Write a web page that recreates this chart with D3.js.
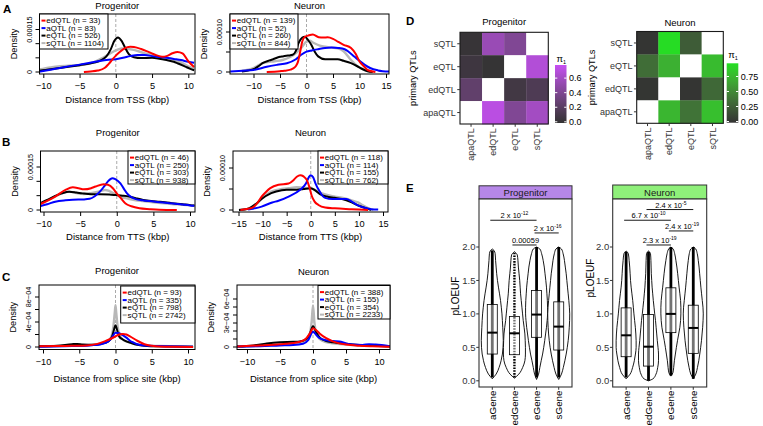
<!DOCTYPE html>
<html><head><meta charset="utf-8">
<script src="https://cdn.jsdelivr.net/npm/d3@7"></script>
<style>body{margin:0;background:#fff}svg{display:block;font-family:"Liberation Sans",Arial,sans-serif}</style>
</head><body><svg id="c" width="763" height="426"></svg>
<script>
// ================= DATA =================
const qtlNames = ["edQTL", "aQTL", "eQTL", "sQTL"];
const qtlColors = ["#ff0000", "#0000ff", "#000000", "#b8b8b8"];

// n per QTL type (order: edQTL, aQTL, eQTL, sQTL)
const tssProgCounts = [33, 83, 526, 1104];
const tssNeuCounts = [139, 52, 260, 844];
const ttsProgCounts = [46, 250, 303, 938];
const ttsNeuCounts = [118, 114, 155, 762];
const ssProgCounts = [93, 335, 798, 2742];
const ssNeuCounts = [388, 155, 354, 2233];

// density curves: [distance kbp, density x1e-5] (TSS / TTS)
const tssProgEd = [[-4.4,0],[-3.5,0.2],[-2.5,0.5],[-1.5,1.5],[-1,2.8],[-0.5,4.3],[0,5.8],[0.5,7],[1,8],[1.5,8.7],[2,8.9],[2.5,8.8],[3.5,8.1],[4.5,7.1],[5.5,6],[6.4,5.4],[7,5.6],[7.8,6.6],[8.5,7.1],[9.2,6.6],[10,3.8],[10.8,1.8]];
const tssProgA = [[-10.7,0],[-9,0.8],[-7,1.8],[-5,2.6],[-3,3.5],[-2,4],[-1,4.3],[0,4.5],[1,5],[2,5.6],[3,6],[4,6],[5,5.6],[6,5.3],[7,5],[8,4.6],[9,4.2],[10,3.6],[10.8,3.3]];
const tssProgE = [[-10.7,0.4],[-9,1],[-8,1.3],[-6,2],[-5,2.4],[-3,3.3],[-2,4.2],[-1.3,5.5],[-0.7,8],[-0.2,11],[0.3,12.2],[0.8,11],[1.3,8.5],[1.8,6.3],[2.5,5.2],[3.5,4.9],[5,5],[6,4.7],[7,4.2],[8,3.6],[8.5,3.1],[9.5,2],[10.2,1.2],[10.8,0.6]];
const tssProgS = [[-10.7,0.8],[-9,1.6],[-8,2],[-6,2.3],[-5,2.4],[-3,3.5],[-2,4.7],[-1,6.2],[0,7.6],[0.8,8.3],[1.5,8.2],[2.5,7.8],[4,6.6],[5,6],[6,5.4],[7,4.9],[8,4.4],[9,3.4],[10,2],[10.8,1.2]];

const tssNeuEd = [[-7.5,0],[-5,0.2],[-4.2,0.3],[-3,0.6],[-2.5,0.9],[-2,1.5],[-1.6,2.6],[-1.2,5],[-0.8,7.6],[-0.3,8.8],[0.3,9.1],[1.2,9.4],[2.3,8.7],[3.2,8.6],[4,8.7],[5,8.3],[5.9,7.6],[7,6.8],[8.4,6],[9.3,4.5],[10,2.6],[11,1.2],[11.5,0.5],[13,0]];
const tssNeuA = [[-14.4,0.1],[-12,0.3],[-10,0.5],[-7.5,1.3],[-5.5,1.8],[-3.7,2.2],[-2,3.2],[-1,4.3],[0,5.1],[1,5.4],[2.2,5.7],[3.5,6],[4.7,6.1],[6,6],[7.2,5.7],[8,5],[9,3.9],[10,2.8],[11,1.8],[12,1],[13.5,0.4],[15.6,0.1]];
const tssNeuE = [[-12.2,0.1],[-11,0.4],[-10,0.7],[-9,1.5],[-8.3,2.2],[-7,2.9],[-6.3,3.2],[-5,3.8],[-4.5,3.9],[-3.5,4.1],[-2.6,4.3],[-2,5.3],[-1.5,7.2],[-0.8,8.6],[-0.3,8.8],[0.3,8],[0.9,6.8],[1.5,5.2],[2.2,3.9],[3.5,3.2],[5,3.2],[5.9,3.2],[7,2.8],[8.4,2.2],[9.5,1.5],[10.3,0.9],[11.5,0.2],[12.5,0]];
const tssNeuS = [[-12.2,0.3],[-10,1],[-8.3,2.2],[-6,2.7],[-4.5,3],[-3,3.8],[-2,4.7],[-1,6],[0,7.6],[0.6,7.8],[1.3,7.3],[2.5,6.6],[3.5,6.3],[4.7,6.1],[5.9,5.9],[7,5.2],[8.4,3],[9.5,1.6],[10.3,0.9],[11.2,0.4],[12.2,0.1]];

const ttsProgEd = [[-10.5,2],[-9.5,3.2],[-8.4,4.7],[-7,7],[-6,7.9],[-5.2,7.6],[-4.5,7.2],[-3.5,7.6],[-2.9,8.2],[-1.8,9],[-1.2,8.8],[-0.5,7.5],[0,5.8],[0.6,4],[1.2,2.3],[2,1.3],[3.1,0.6],[4.5,0.3],[5.8,0.1],[8.2,0]];
const ttsProgA = [[-10.5,1.3],[-9.5,2],[-8.4,2.9],[-7,3.4],[-6,3.6],[-4.5,3.7],[-3.7,3.9],[-3,4.8],[-2.3,6.4],[-1.7,8.3],[-1.2,10],[-0.6,11.1],[-0.2,10.8],[0.5,9.3],[1,7.3],[1.4,5.8],[2,4.5],[2.6,3.8],[3.5,3.4],[4.4,3.1],[5.5,2.8],[6.7,2.5],[8,2.2],[9,1.9],[10,1.6],[10.6,1.5]];
const ttsProgE = [[-10.5,2.3],[-9.5,3.5],[-8.4,4.9],[-7.5,5.8],[-6.5,6.4],[-5.5,6.1],[-4.7,5.8],[-3.5,5.5],[-2.3,5.5],[-1,5.4],[-0.1,5.2],[0.8,5],[1.7,4.7],[2.6,4.1],[3.6,3.5],[4.7,3.1],[5.9,2.9],[7.5,2.4],[9,2],[10,1.7],[10.6,1.6]];
const ttsProgS = [[-10.5,2],[-9.5,3.3],[-8.4,4.7],[-7.5,5.8],[-6.5,6.4],[-5.5,5.9],[-4.5,5.6],[-3.5,5.9],[-2.5,6.4],[-1.6,7],[-1,6.6],[-0.2,5.5],[0.5,4.6],[1.5,4],[2.6,3.4],[3.6,3.1],[5,2.7],[6.5,2.3],[8,2],[9.5,1.7],[10.6,1.5]];

const ttsNeuEd = [[-14.6,0],[-13,0.3],[-12.2,0.5],[-11,1.8],[-10.2,3.2],[-9.3,4.3],[-8.4,5.2],[-6.7,6],[-4.6,6.3],[-3.5,7.2],[-2.9,7.9],[-2.2,8.3],[-1.5,8],[-0.8,7.1],[-0.3,5.5],[0.2,3.4],[0.8,2],[1.6,1.2],[3,0.6],[5,0.4],[8.5,0.2],[11.9,0]];
const ttsNeuA = [[-13,0.1],[-12,0.3],[-10.2,0.8],[-8,1.8],[-6.7,2.2],[-4.6,3.2],[-2.2,4.8],[-1,6.3],[-0.4,7.8],[0,8.3],[0.5,7.8],[1,6.3],[1.8,4.5],[2.5,3.3],[3,2.9],[4.5,2.6],[6,2.6],[7.4,2.6],[8.5,2],[9.8,1.1],[11,0.6],[12.5,0.2],[14,0.1]];
const ttsNeuE = [[-14.9,0],[-13,0.3],[-12.2,0.8],[-11,1.8],[-10.2,2.6],[-8.2,4],[-6,4.7],[-5,4.8],[-2.9,4.8],[-1.5,5],[0,5.2],[1,4.6],[2,3.7],[3.3,3.2],[5,2.9],[6.5,2.6],[8.5,1.8],[10,1],[11.5,0.4],[12.5,0]];
const ttsNeuS = [[-14.9,0],[-12.2,0.5],[-10.2,2.8],[-8.2,4.4],[-6,5],[-4.6,5.2],[-2.9,5.4],[-1.5,5.3],[0,5.2],[1.6,4.3],[3,3.7],[5,3.2],[6.9,2.8],[8.5,2.3],[9.8,1.8],[11,1],[12,0.4],[13,0]];

// splice site: [distance kbp, density x1e-4]
const ssProgEd = [[-10.7,0.1],[-8,0.15],[-6,0.2],[-4,0.25],[-2.5,0.5],[-1.5,0.9],[-0.5,1.4],[0,1.7],[0.5,2.0],[1,2.1],[1.5,2.0],[2,1.7],[3,1.0],[4,0.45],[5,0.2],[6,0.08],[8,0.03],[10.7,0.02]];
const ssProgA = [[-10.7,0.05],[-6,0.15],[-4,0.2],[-3,0.3],[-2,0.45],[-1,0.9],[-0.5,1.5],[0,2.3],[0.5,2.2],[1,1.9],[1.5,1.5],[2,1.0],[2.5,0.7],[3,0.45],[4,0.25],[6,0.15],[10.7,0.05]];
const ssProgE = [[-10.7,0.1],[-8,0.2],[-6,0.45],[-5.3,0.5],[-4.5,0.4],[-3,0.35],[-2,0.5],[-1,0.9],[-0.5,1.6],[-0.2,2.8],[0,3.5],[0.2,2.8],[0.5,1.7],[1,1.2],[1.5,0.9],[2,0.7],[3,0.35],[4,0.2],[6,0.1],[10.7,0.05]];
const ssProgS = [[-10.7,0.1],[-8,0.15],[-6,0.25],[-5,0.3],[-4,0.3],[-3,0.35],[-2,0.5],[-1.2,0.8],[-0.6,1.6],[-0.3,3.2],[-0.1,5.5],[0,6.7],[0.1,5.5],[0.3,3.2],[0.6,1.8],[1,1.2],[1.5,0.9],[2,0.7],[3,0.4],[4,0.25],[6,0.15],[8,0.1],[10.7,0.05]];

const ssNeuEd = [[-11.5,0.05],[-8,0.2],[-5,0.35],[-3,0.5],[-2,0.65],[-1,1.1],[-0.4,1.8],[0,2.35],[0.5,2.1],[1,1.7],[2,1.1],[3,0.7],[4,0.45],[5,0.3],[7,0.15],[9,0.08],[11.7,0.03]];
const ssNeuA = [[-11.5,0.05],[-8,0.1],[-5,0.2],[-3,0.25],[-1.5,0.4],[-0.7,0.9],[0,1.9],[0.5,1.5],[1,1.1],[2,0.85],[3,0.75],[4,0.7],[5,0.45],[6,0.3],[7.5,0.25],[8.5,0.35],[9.5,0.3],[11.7,0.1]];
const ssNeuE = [[-11.5,0.05],[-9,0.2],[-7,0.45],[-5,0.6],[-3,0.65],[-2,0.7],[-1,1.0],[-0.5,1.6],[0,2.6],[0.5,1.8],[1,1.2],[2,0.75],[3,0.6],[5,0.4],[7,0.25],[9,0.15],[11.7,0.05]];
const ssNeuS = [[-11.5,0.05],[-8,0.15],[-6,0.3],[-4,0.35],[-2,0.5],[-1,0.9],[-0.5,1.6],[-0.2,3.2],[0,5.2],[0.2,3.2],[0.5,1.7],[1,1.0],[2,0.6],[3,0.45],[5,0.3],[7,0.2],[9,0.2],[11.7,0.05]];

// tick values / labels
const xTicks10 = [-10, -5, 0, 5, 10];
const xTicks15 = [-10, -5, 0, 5, 10, 15];
const xTicksPM15 = [-15, -10, -5, 0, 5, 10, 15];
const yTicksE5 = [0, 5, 10, 15];
const yLabProg = [[0, "0"], [15, "0.00015"]];
const yLabNeu = [[0, "0"], [10, "0.00010"]];
const yTicksSsProg = [0, 2, 4, 6, 8];
const yLabSsProg = [[0, "0"], [4, "4e\u221204"], [8, "8e\u221204"]];
const yTicksSsNeu = [0, 1, 2, 3, 4, 5, 6];
const yLabSsNeu = [[0, "0"], [3, "3e\u221204"], [6, "6e\u221204"]];

// Panel D: pi1 sharing
const heatRows = ["sQTL", "eQTL", "edQTL", "apaQTL"];
const heatCols = ["apaQTL", "edQTL", "eQTL", "sQTL"];
const pi1Progenitor = [[0.02, 0.55, 0.42, null], [0.06, 0.01, null, 0.68], [0.25, null, 0.08, 0.15], [null, 0.72, 0.42, 0.60]];
const pi1Neuron = [[0.01, 0.95, 0.25, null], [0.35, 0.72, null, 0.78], [0.02, null, 0.01, 0.32], [null, 0.75, 0.38, 0.80]];
const pi1ProgTicks = [0, 0.2, 0.4, 0.6];
const pi1ProgTickLabels = ["0.0", "0.2", "0.4", "0.6"];
const pi1NeuTicks = [0, 0.25, 0.5, 0.75];
const pi1NeuTickLabels = ["0.00", "0.25", "0.50", "0.75"];

// Panel E: pLOEUF
const genes = ["aGene", "edGene", "eGene", "sGene"];
const ploeufTicks = [0, 0.5, 1, 1.5, 2];
const ploeufTickLabels = ["0.0", "0.5", "1.0", "1.5", "2.0"];
// [min, q1, median, q3, max]
const progBoxStats = [[0.05, 0.40, 0.72, 1.14, 1.95], [0.05, 0.39, 0.71, 0.96, 1.93], [0.05, 0.65, 0.99, 1.35, 2.0], [0.05, 0.46, 0.81, 1.18, 2.0]];
const neuBoxStats = [[0.05, 0.36, 0.68, 1.09, 1.93], [0.0, 0.22, 0.51, 0.99, 1.93], [0.08, 0.72, 1.0, 1.39, 2.0], [0.03, 0.41, 0.79, 1.13, 2.0]];
// violin profiles [pLOEUF, relative density width]
const progViolinA = [[0.03,0],[0.1,0.35],[0.2,0.62],[0.3,0.8],[0.4,0.92],[0.5,0.98],[0.6,1.0],[0.7,0.98],[0.8,0.95],[0.9,0.92],[1.0,0.88],[1.1,0.82],[1.2,0.75],[1.3,0.66],[1.4,0.56],[1.5,0.47],[1.6,0.4],[1.7,0.35],[1.8,0.3],[1.9,0.26],[1.95,0.15],[1.97,0]];
const progViolinEd = [[0.04,0],[0.1,0.4],[0.2,0.75],[0.3,0.95],[0.4,1.0],[0.5,1.0],[0.6,0.98],[0.7,0.95],[0.8,0.88],[0.9,0.8],[1.0,0.74],[1.1,0.68],[1.2,0.62],[1.3,0.56],[1.4,0.52],[1.5,0.48],[1.6,0.42],[1.7,0.36],[1.8,0.32],[1.88,0.26],[1.93,0]];
const progViolinE = [[0.02,0],[0.1,0.18],[0.2,0.3],[0.3,0.42],[0.4,0.55],[0.5,0.65],[0.6,0.74],[0.7,0.82],[0.8,0.9],[0.9,0.96],[1.0,1.0],[1.1,1.0],[1.2,0.98],[1.3,0.94],[1.4,0.9],[1.5,0.84],[1.6,0.77],[1.7,0.7],[1.8,0.6],[1.9,0.46],[1.97,0.3],[2.0,0]];
const progViolinS = [[0.02,0],[0.1,0.25],[0.2,0.42],[0.3,0.56],[0.4,0.68],[0.5,0.78],[0.6,0.86],[0.7,0.92],[0.8,0.96],[0.9,0.99],[1.0,1.0],[1.1,0.97],[1.2,0.92],[1.3,0.86],[1.4,0.8],[1.5,0.74],[1.6,0.68],[1.7,0.6],[1.8,0.52],[1.9,0.4],[1.97,0.25],[2.0,0]];
const neuViolinA = [[0.03,0],[0.1,0.4],[0.2,0.65],[0.3,0.82],[0.4,0.93],[0.5,1.0],[0.6,1.0],[0.7,0.97],[0.8,0.92],[0.9,0.85],[1.0,0.78],[1.1,0.72],[1.2,0.66],[1.3,0.58],[1.4,0.5],[1.5,0.44],[1.6,0.4],[1.7,0.36],[1.8,0.3],[1.9,0.22],[1.94,0]];
const neuViolinEd = [[0.0,0],[0.03,0.45],[0.1,0.75],[0.2,0.92],[0.3,1.0],[0.4,1.0],[0.5,0.95],[0.6,0.88],[0.7,0.82],[0.8,0.76],[0.9,0.7],[1.0,0.62],[1.1,0.55],[1.2,0.48],[1.3,0.42],[1.4,0.36],[1.5,0.32],[1.6,0.28],[1.7,0.26],[1.8,0.24],[1.9,0.2],[1.94,0]];
const neuViolinE = [[0.07,0],[0.12,0.2],[0.2,0.28],[0.3,0.35],[0.4,0.45],[0.5,0.55],[0.6,0.66],[0.7,0.78],[0.8,0.9],[0.9,0.97],[1.0,1.0],[1.1,1.0],[1.2,0.97],[1.3,0.9],[1.4,0.82],[1.5,0.75],[1.6,0.68],[1.7,0.6],[1.8,0.5],[1.9,0.38],[1.97,0.22],[2.0,0]];
const neuViolinS = [[0.03,0],[0.1,0.25],[0.2,0.42],[0.3,0.55],[0.4,0.65],[0.5,0.74],[0.6,0.82],[0.7,0.88],[0.8,0.94],[0.9,0.98],[1.0,1.0],[1.1,0.97],[1.2,0.9],[1.3,0.83],[1.4,0.76],[1.5,0.7],[1.6,0.64],[1.7,0.58],[1.8,0.5],[1.9,0.4],[1.97,0.25],[2.0,0]];
// significance brackets: [from, to, bar level, mantissa, exponent]
const progSig = [["aGene", "eGene", 2.40, "2 x 10", "-12"], ["eGene", "sGene", 2.21, "2 x 10", "-16"], ["edGene", "eGene", 2.03, "0.00059", ""]];
const neuSig = [["edGene", "sGene", 2.56, "2.4 x 10", "-5"], ["aGene", "eGene", 2.40, "6.7 x 10", "-10"], ["eGene", "sGene", 2.24, "2.4 x 10", "-19"], ["edGene", "eGene", 2.03, "2.3 x 10", "-19"]];

// ================= DRAWING =================
const svg = d3.select("#c");
svg.append("rect").attr("width", 763).attr("height", 426).attr("fill", "#fff");
const FS = 9.5;

function txt(g, x, y, s, o = {}) {
  const t = g.append("text").attr("x", x).attr("y", y).text(s)
    .attr("font-size", o.size || FS).attr("fill", o.fill || "#000")
    .attr("text-anchor", o.anchor || "middle");
  if (o.bold) t.attr("font-weight", "bold");
  if (o.rot) t.attr("transform", `rotate(${o.rot},${x},${y})`);
  if (o.dy) t.attr("dy", o.dy);
  return t;
}

// panel letters
[["A", 3, 13], ["B", 2, 145.5], ["C", 2, 281], ["D", 406, 24.5], ["E", 406, 191.5]].forEach(([l, x, y]) =>
  txt(svg, x, y, l, { bold: true, size: 11.5, anchor: "start" }));

const densityPanels = [
  { id: "a1", title: "Progenitor", titleY: 9, box: [39.5, 14, 195, 74], xRef: [-10, 43.3, 10, 188.3], yRef: [0, 72, 15, 29.5],
    xTicks: xTicks10, yTicks: yTicksE5, yLabels: yLabProg, xTitle: "Distance from TSS (kbp)", xTitleY: 103,
    legend: [39.5, 14, 68.5, 35], counts: tssProgCounts, series: [tssProgEd, tssProgA, tssProgE, tssProgS] },
  { id: "a2", title: "Neuron", titleY: 9, box: [230, 14, 389, 74], xRef: [-10, 253.5, 10, 359.5], yRef: [0, 72, 10, 32],
    xTicks: xTicks15, yTicks: yTicksE5, yLabels: yLabNeu, xTitle: "Distance from TSS (kbp)", xTitleY: 103,
    legend: [230, 14, 68, 35], counts: tssNeuCounts, series: [tssNeuEd, tssNeuA, tssNeuE, tssNeuS] },
  { id: "b1", title: "Progenitor", titleY: 136, box: [40.5, 151, 195, 212], xRef: [-10, 43.5, 10, 190], yRef: [0, 210, 15, 167],
    xTicks: xTicks10, yTicks: yTicksE5, yLabels: yLabProg, xTitle: "Distance from TTS (kbp)", xTitleY: 240,
    legend: [128, 151, 67, 33], counts: ttsProgCounts, series: [ttsProgEd, ttsProgA, ttsProgE, ttsProgS] },
  { id: "b2", title: "Neuron", titleY: 136, box: [233, 151, 388, 212], xRef: [-15, 238.5, 15, 383], yRef: [0, 210, 10, 168],
    xTicks: xTicksPM15, yTicks: yTicksE5, yLabels: yLabNeu, xTitle: "Distance from TTS (kbp)", xTitleY: 240,
    legend: [318, 151, 70, 33], counts: ttsNeuCounts, series: [ttsNeuEd, ttsNeuA, ttsNeuE, ttsNeuS] },
  { id: "c1", title: "Progenitor", titleY: 274, box: [39, 285, 195, 349.5], xRef: [-10, 43, 10, 188], yRef: [0, 347, 8, 297],
    xTicks: xTicks10, yTicks: yTicksSsProg, yLabels: yLabSsProg, xTitle: "Distance from splice site (kbp)", xTitleY: 382,
    legend: [120.7, 286, 74.3, 37], counts: ssProgCounts, series: [ssProgEd, ssProgA, ssProgE, ssProgS] },
  { id: "c2", title: "Neuron", titleY: 275, box: [237, 285, 390, 349.5], xRef: [-10, 247, 10, 379], yRef: [0, 347, 6, 299],
    xTicks: xTicks10, yTicks: yTicksSsNeu, yLabels: yLabSsNeu, xTitle: "Distance from splice site (kbp)", xTitleY: 382,
    legend: [318, 285.5, 72, 33.5], counts: ssNeuCounts, series: [ssNeuEd, ssNeuA, ssNeuE, ssNeuS] }
];

densityPanels.forEach(cfg => {
  const g = svg.append("g");
  const [bx0, by0, bx1, by1] = cfg.box;
  const x = d3.scaleLinear().domain([cfg.xRef[0], cfg.xRef[2]]).range([cfg.xRef[1], cfg.xRef[3]]);
  const y = d3.scaleLinear().domain([cfg.yRef[0], cfg.yRef[2]]).range([cfg.yRef[1], cfg.yRef[3]]);
  const clip = "clip-" + cfg.id;
  g.append("clipPath").attr("id", clip).append("rect")
    .attr("x", bx0).attr("y", by0).attr("width", bx1 - bx0).attr("height", by1 - by0);
  const inner = g.append("g").attr("clip-path", `url(#${clip})`);
  inner.append("line").attr("x1", x(0)).attr("x2", x(0)).attr("y1", by0).attr("y2", by1)
    .attr("stroke", "#aaa").attr("stroke-width", 1).attr("stroke-dasharray", "3,2");
  const line = d3.line().x(d => x(d[0])).y(d => y(d[1])).curve(d3.curveMonotoneX);
  [3, 2, 1, 0].forEach(i => {
    inner.append("path").attr("d", line(cfg.series[i])).attr("fill", "none")
      .attr("stroke", qtlColors[i]).attr("stroke-width", i === 3 ? 2.4 : 2).attr("stroke-linejoin", "round");
  });
  g.append("rect").attr("x", bx0).attr("y", by0).attr("width", bx1 - bx0).attr("height", by1 - by0)
    .attr("fill", "none").attr("stroke", "#000").attr("stroke-width", 1);
  // x axis
  const ax = d3.axisBottom(x).tickValues(cfg.xTicks).tickSize(4).tickPadding(4.5)
    .tickFormat(d => d < 0 ? "\u2212" + Math.abs(d) : String(d));
  const axg = g.append("g").attr("transform", `translate(0,${by1})`).call(ax);
  axg.select(".domain").remove();
  axg.attr("font-size", 9.2).attr("font-family", null);
  // y axis ticks
  cfg.yTicks.forEach(v => {
    const yy = y(v);
    if (yy < by0 - 0.5 || yy > by1) return;
    g.append("line").attr("x1", bx0 - 4).attr("x2", bx0).attr("y1", yy).attr("y2", yy).attr("stroke", "#000");
  });
  cfg.yLabels.forEach(([v, s]) => txt(g, bx0 - 10.5, y(v), s, { rot: -90, dy: "0.35em", size: 7.3 }));
  txt(g, bx0 - 26, (by0 + by1) / 2, "Density", { rot: -90, dy: "0.35em", size: 9.2 });
  txt(g, (bx0 + bx1) / 2, cfg.titleY, cfg.title);
  txt(g, (bx0 + bx1) / 2, cfg.xTitleY, cfg.xTitle);
  // legend
  const [lx, ly, lw, lh] = cfg.legend;
  g.append("rect").attr("x", lx).attr("y", ly).attr("width", lw).attr("height", lh)
    .attr("fill", "#fff").attr("stroke", "#000").attr("stroke-width", 1);
  const rowH = 7.5;
  qtlNames.forEach((q, i) => {
    const ry = ly + 6.6 + rowH * i;
    g.append("line").attr("x1", lx + 2).attr("x2", lx + 6).attr("y1", ry).attr("y2", ry)
      .attr("stroke", qtlColors[i]).attr("stroke-width", 2);
    txt(g, lx + 6.8, ry, `${q} (n = ${cfg.counts[i]})`, { anchor: "start", size: 8, dy: "0.35em" });
  });
});

// ---------- Panel D heatmaps ----------
const heatPanels = [
  { id: "hp", title: "Progenitor", titleY: 24.5, box: [460, 32.3, 548.3, 124], values: pi1Progenitor, max: 0.78,
    colors: ["#333333", "#c64ff2"], ytitleX: 413, bar: [555, 65, 566.5, 123], piY: 62, ticks: pi1ProgTicks, tickLabels: pi1ProgTickLabels },
  { id: "hn", title: "Neuron", titleY: 26, box: [636.7, 31.5, 723.3, 123.3], values: pi1Neuron, max: 0.97,
    colors: ["#333333", "#22e022"], ytitleX: 591.7, bar: [726.7, 63.3, 738.3, 122.7], piY: 58, ticks: pi1NeuTicks, tickLabels: pi1NeuTickLabels }
];
heatPanels.forEach(cfg => {
  const g = svg.append("g");
  const [x0, y0, x1, y1] = cfg.box;
  const x = d3.scaleBand().domain(heatCols).range([x0, x1]);
  const y = d3.scaleBand().domain(heatRows).range([y0, y1]);
  const col = d3.scaleLinear().domain([0, cfg.max]).range(cfg.colors).interpolate(d3.interpolateLab);
  heatRows.forEach((r, ri) => heatCols.forEach((c, ci) => {
    const v = cfg.values[ri][ci];
    g.append("rect").attr("x", x(c)).attr("y", y(r)).attr("width", x.bandwidth() + 0.3).attr("height", y.bandwidth() + 0.3)
      .attr("fill", v == null ? "#ffffff" : col(v));
  }));
  g.append("rect").attr("x", x0).attr("y", y0).attr("width", x1 - x0).attr("height", y1 - y0)
    .attr("fill", "none").attr("stroke", "#1a1a1a").attr("stroke-width", 1.1);
  heatRows.forEach(r => {
    const cy = y(r) + y.bandwidth() / 2;
    g.append("line").attr("x1", x0 - 2.75).attr("x2", x0).attr("y1", cy).attr("y2", cy).attr("stroke", "#333");
    txt(g, x0 - 4.2, cy, r, { anchor: "end", size: 9, fill: "#333", dy: "0.35em" });
  });
  heatCols.forEach(c => {
    const cx = x(c) + x.bandwidth() / 2;
    g.append("line").attr("x1", cx).attr("x2", cx).attr("y1", y1).attr("y2", y1 + 2.75).attr("stroke", "#333");
    txt(g, cx, y1 + 4.2, c, { anchor: "end", size: 9, fill: "#333", rot: -90, dy: "0.35em" });
  });
  txt(g, (x0 + x1) / 2, cfg.titleY, cfg.title);
  txt(g, cfg.ytitleX, (y0 + y1) / 2, "primary QTLs", { rot: -90, dy: "0.35em", size: 9.2 });
  // colour bar
  const [bx0, by0, bx1, by1] = cfg.bar;
  const gid = "grad-" + cfg.id;
  const grad = g.append("linearGradient").attr("id", gid).attr("x1", 0).attr("y1", 1).attr("x2", 0).attr("y2", 0);
  d3.range(0, 1.0001, 0.1).forEach(t => grad.append("stop").attr("offset", t).attr("stop-color", col(t * cfg.max)));
  g.append("rect").attr("x", bx0).attr("y", by0).attr("width", bx1 - bx0).attr("height", by1 - by0).attr("fill", `url(#${gid})`);
  const by = d3.scaleLinear().domain([0, cfg.max]).range([by1 - 1.2, by0]);
  cfg.ticks.forEach((v, i) => {
    const yy = by(v);
    g.append("line").attr("x1", bx0).attr("x2", bx0 + 2.3).attr("y1", yy).attr("y2", yy).attr("stroke", "#fff");
    g.append("line").attr("x1", bx1 - 2.3).attr("x2", bx1).attr("y1", yy).attr("y2", yy).attr("stroke", "#fff");
    txt(g, bx1 + 2.5, yy, cfg.tickLabels[i], { anchor: "start", size: 9, dy: "0.35em" });
  });
  const pt = g.append("text").attr("x", bx0 + 1.5).attr("y", cfg.piY).attr("font-size", 9.5);
  pt.append("tspan").text("\u03c0");
  pt.append("tspan").text("1").attr("font-size", 5.5).attr("dy", 1.8);
});

// ---------- Panel E violins ----------
const violinPanels = [
  { id: "vp", strip: "Progenitor", stripFill: "#b687e8", box: [479, 199, 572, 387], stripTop: 185.8, ylabX: 455, ylabY: 296,
    stats: progBoxStats, profiles: [progViolinA, progViolinEd, progViolinE, progViolinS], maxW: 11, sig: progSig, dotted: [false, true, false, false] },
  { id: "vn", strip: "Neuron", stripFill: "#8ff07a", box: [612.7, 199, 706.7, 387], stripTop: 185, ylabX: 590, ylabY: 278,
    stats: neuBoxStats, profiles: [neuViolinA, neuViolinEd, neuViolinE, neuViolinS], maxW: 10, sig: neuSig, dotted: [false, false, false, false] }
];
violinPanels.forEach(cfg => {
  const g = svg.append("g");
  const [x0, y0, x1, y1] = cfg.box;
  const x = d3.scalePoint().domain(genes).range([x0, x1]).padding(0.6);
  const y = d3.scaleLinear().domain([0, 2]).range([380.8, 247]);
  g.append("rect").attr("x", x0).attr("y", cfg.stripTop).attr("width", x1 - x0).attr("height", y0 - cfg.stripTop)
    .attr("fill", cfg.stripFill).attr("stroke", "#333").attr("stroke-width", 1);
  txt(g, (x0 + x1) / 2, 195.5, cfg.strip, { size: 9.5, fill: "#1a1a1a" });
  g.append("rect").attr("x", x0).attr("y", y0).attr("width", x1 - x0).attr("height", y1 - y0)
    .attr("fill", "#fff").attr("stroke", "none");
  genes.forEach((gn, i) => {
    const cx = x(gn);
    const s = cfg.stats[i];
    const area = d3.area().y(d => y(d[0])).x0(d => cx - d[1] * cfg.maxW).x1(d => cx + d[1] * cfg.maxW).curve(d3.curveMonotoneY);
    g.append("path").attr("d", area(cfg.profiles[i])).attr("fill", "#fff").attr("stroke", "#000").attr("stroke-width", 0.9);
    const pts = g.append("line").attr("x1", cx).attr("x2", cx).attr("y1", y(s[0])).attr("y2", y(s[4]))
      .attr("stroke", "#000").attr("stroke-width", cfg.dotted[i] ? 2.4 : 2.8);
    if (cfg.dotted[i]) pts.attr("stroke-dasharray", "1.6,1.2");
    g.append("rect").attr("x", cx - 5).attr("y", y(s[3])).attr("width", 10).attr("height", y(s[1]) - y(s[3]))
      .attr("fill", "#fff").attr("fill-opacity", 0.45).attr("stroke", "#000").attr("stroke-width", 0.8);
    g.append("line").attr("x1", cx - 5).attr("x2", cx + 5).attr("y1", y(s[2])).attr("y2", y(s[2]))
      .attr("stroke", "#000").attr("stroke-width", 2);
    g.append("line").attr("x1", cx).attr("x2", cx).attr("y1", y1).attr("y2", y1 + 2.75).attr("stroke", "#333");
    txt(g, cx, y1 + 3.5, gn, { anchor: "end", rot: -90, dy: "0.35em", size: 9.8 });
  });
  g.append("rect").attr("x", x0).attr("y", y0).attr("width", x1 - x0).attr("height", y1 - y0)
    .attr("fill", "none").attr("stroke", "#333").attr("stroke-width", 1.1);
  ploeufTicks.forEach((v, i) => {
    g.append("line").attr("x1", x0 - 2.75).attr("x2", x0).attr("y1", y(v)).attr("y2", y(v)).attr("stroke", "#333");
    txt(g, x0 - 3.5, y(v), ploeufTickLabels[i], { anchor: "end", dy: "0.35em", size: 9.5, fill: "#333" });
  });
  txt(g, cfg.ylabX, cfg.ylabY, "pLOEUF", { rot: -90, dy: "0.35em", size: 10 });
  cfg.sig.forEach(([a, b, lvl, mant, ex]) => {
    const yy = y(lvl);
    g.append("line").attr("x1", x(a) - 2).attr("x2", x(b)).attr("y1", yy).attr("y2", yy).attr("stroke", "#000").attr("stroke-width", 0.9);
    const t = g.append("text").attr("x", (x(a) + x(b)) / 2).attr("y", yy - 2).attr("text-anchor", "middle").attr("font-size", 7.5);
    t.append("tspan").text(mant);
    if (ex) t.append("tspan").text(ex).attr("font-size", 5).attr("dy", -2.8);
  });
});
</script></body></html>
